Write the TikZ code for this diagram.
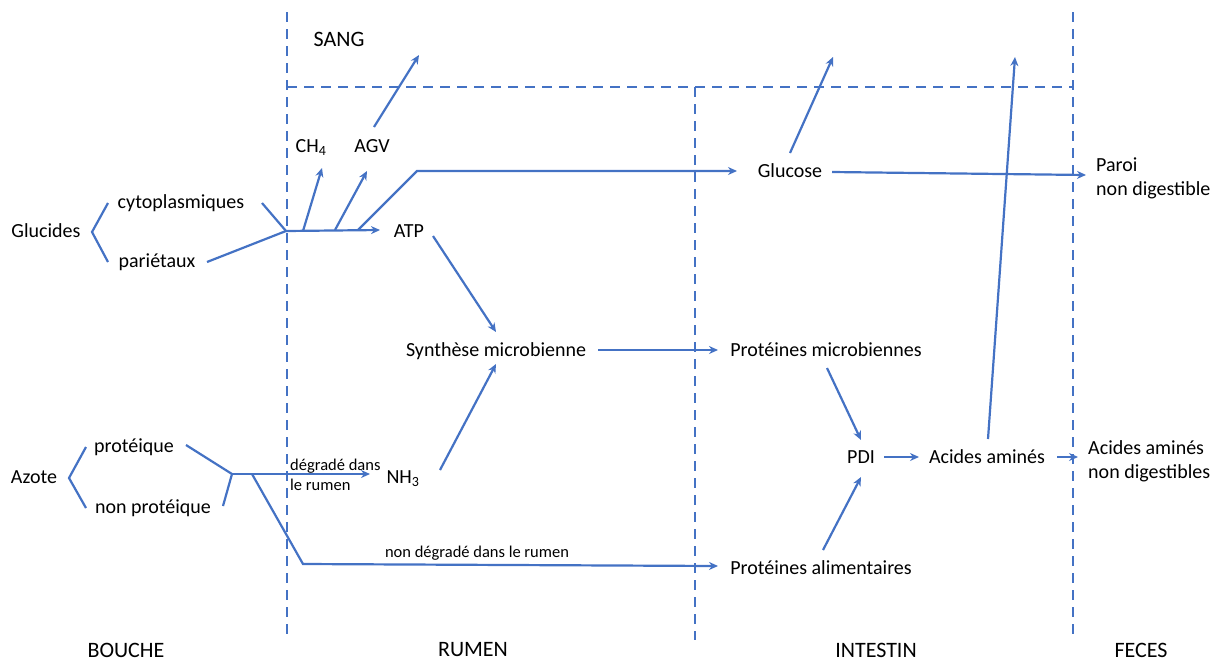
\documentclass[tikz,border=0pt]{standalone}
\usepackage{fontspec}
\setmainfont{Carlito}
\usetikzlibrary{arrows.meta,calc,positioning}
\definecolor{flowblue}{RGB}{68,114,196}
\tikzset{>={Stealth[length=9pt,width=8pt]}}
\tikzset{
  lbl/.style={inner sep=0pt,text height=14pt,text depth=4pt,
    font=\fontsize{20}{24}\selectfont},
  zone/.style={inner sep=0pt,font=\fontsize{22}{26}\selectfont},
  small/.style={inner sep=0pt,font=\fontsize{16.5}{20}\selectfont},
  twolines/.style={inner sep=0pt,align=left,anchor=west},
  flow/.style={draw=flowblue,line width=2.2pt},
  divider/.style={draw=flowblue,line width=2.2pt,dash pattern=on 10pt off 7pt}
}

\begin{document}
\begin{tikzpicture}[x=1pt,y=-1pt]
\useasboundingbox (0,0) rectangle (1218,662);

% compartments
\draw[divider] (287,12) -- (287,640);
\draw[divider] (695,87) -- (695,640);
\draw[divider] (1073,12) -- (1073,640);
\draw[divider] (287,87) -- (1073,87);
\node[zone] (sang) at (339,39) {SANG};
\foreach \x/\name in {126/BOUCHE,473/RUMEN,876/INTESTIN,1141/FECES}
  \node[zone] at (\x,650) {\name};

% labels
\node[lbl] (glu) at (46,232) {Glucides};
\node[lbl] (cyto) at (181,203) {cytoplasmiques};
\node[lbl] (par) at (157,262) {pariétaux};
\node[lbl] (ch4) at (311,147) {CH\textsubscript{4}};
\node[lbl] (agv) at (372,147) {AGV};
\node[lbl] (atp) at (409,232) {ATP};
\node[lbl] (glc) at (790,172) {Glucose};
\node[lbl] (syn) at (496,351) {Synthèse microbienne};
\node[lbl] (pmic) at (826,351) {Protéines microbiennes};
\node[lbl] (pdi) at (861,458) {PDI};
\node[lbl] (aa) at (987,458) {Acides aminés};
\node[lbl] (palim) at (821,569) {Protéines alimentaires};
\node[lbl] (nh3) at (403,478) {NH\textsubscript{3}};
\node[lbl] (azote) at (34,478) {Azote};
\node[lbl] (prot) at (134,447) {protéique};
\node[lbl] (nprot) at (153,508) {non protéique};
\node[twolines,font=\fontsize{20}{24}\selectfont] (paroi) at (1096,178)
  {Paroi\\non digestible};
\node[twolines,font=\fontsize{20}{24}\selectfont] (aand) at (1088,461)
  {Acides aminés\\non digestibles};
\node[twolines,small] (deg) at (290,475) {dégradé dans\\le rumen};
\node[small] (ndeg) at (477,553) {non dégradé dans le rumen};

% junctions and exits to the blood
\coordinate (jg) at (286,231);
\coordinate (b1) at (303,231);
\coordinate (b2) at (335,230);
\coordinate (b3) at (358,230);
\coordinate (jn) at (232,474);
\coordinate (b4) at (252,474);
\coordinate (sangA) at (419,55);
\coordinate (sangG) at (833,57);
\coordinate (sangAA) at (1015,57);

% glucides
\draw[flow] ($(cyto)+(-73,0)$) -- ($(glu)+(46,0)$) -- ($(par)+(-49,0)$);
\draw[flow] ($(cyto)+(81,0)$) -- (jg);
\draw[flow] ($(par)+(50,0)$) -- (jg);
\draw[flow,->] (jg) -- ($(atp)+(-29,-2)$);
\draw[flow,->] (b1) -- ($(ch4)+(11,21)$);
\draw[flow,->] (b2) -- ($(agv)+(-5,24)$);
\draw[flow,->] (b3) -- ++(59,-59) -- ($(glc)+(-53,-1)$);
\draw[flow,->] ($(agv)+(2,-20)$) -- (sangA);
\draw[flow,->] ($(glc)+(0,-19)$) -- (sangG);
\draw[flow,->] ($(glc)+(42,0)$) -- ($(paroi.west)+(-10,-3)$);
\draw[flow,->] ($(atp)+(24,4)$) -- ($(syn)+(0,-19)$);

% azote
\draw[flow] ($(prot)+(-48,0)$) -- ($(azote)+(35,0)$) -- ($(nprot)+(-67,0)$);
\draw[flow] ($(prot)+(52,-2)$) -- (jn);
\draw[flow] ($(nprot)+(70,-2)$) -- (jn);
\draw[flow,->] (jn) -- ($(nh3)+(-33,-4)$);
\draw[flow,->] ($(nh3)+(37,-8)$) -- ($(syn)+(0,13)$);
\draw[flow,->] (b4) -- ++(51,90) -- ($(palim)+(-103,-3)$);

% intestin
\draw[flow,->] ($(syn)+(102,-1)$) -- ($(pmic)+(-108,-1)$);
\draw[flow,->] ($(pmic)+(1,17)$) -- ($(pdi)+(0,-18)$);
\draw[flow,->] ($(palim)+(2,-19)$) -- ($(pdi)+(0,19)$);
\draw[flow,->] ($(pdi)+(23,-1)$) -- ($(aa)+(-68,-1)$);
\draw[flow,->] ($(aa)+(70,-1)$) -- ($(aand.west)+(-10,-4)$);
\draw[flow,->] ($(aa)+(1,-19)$) -- (sangAA);
\end{tikzpicture}
\end{document}
